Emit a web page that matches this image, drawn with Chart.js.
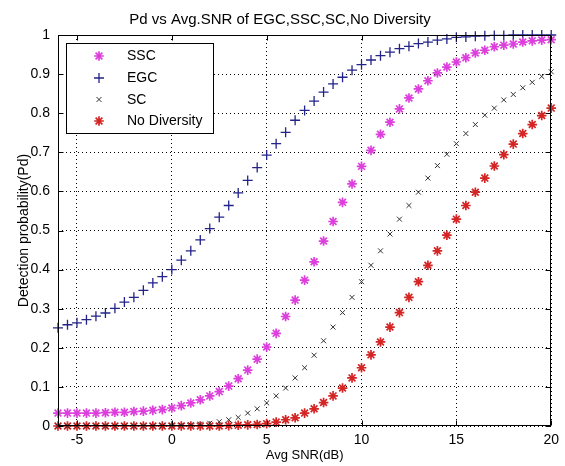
<!DOCTYPE html>
<html><head><meta charset="utf-8">
<script src="https://cdn.jsdelivr.net/npm/chart.js@4/dist/chart.umd.min.js"></script>
<style>html,body{margin:0;padding:0;background:#fff;}</style>
</head><body>
<canvas id="c" width="565" height="466" style="display:block;width:565px;height:466px"></canvas>
<script>
const chartTitle = 'Pd vs Avg.SNR of EGC,SSC,SC,No Diversity';
const xTitle = 'Avg SNR(dB)';
const yTitle = 'Detection probability(Pd)';
const seriesNames = ['SSC', 'EGC', 'SC', 'No Diversity'];
const snrDb = [-6, -5.5, -5, -4.5, -4, -3.5, -3, -2.5, -2, -1.5, -1, -0.5, 0, 0.5, 1, 1.5, 2, 2.5, 3, 3.5, 4, 4.5, 5, 5.5, 6, 6.5, 7, 7.5, 8, 8.5, 9, 9.5, 10, 10.5, 11, 11.5, 12, 12.5, 13, 13.5, 14, 14.5, 15, 15.5, 16, 16.5, 17, 17.5, 18, 18.5, 19, 19.5, 20];
const pdSSC = [0.033, 0.033, 0.033, 0.033, 0.033, 0.034, 0.035, 0.035, 0.037, 0.038, 0.040, 0.042, 0.046, 0.052, 0.059, 0.067, 0.077, 0.088, 0.102, 0.121, 0.143, 0.171, 0.202, 0.237, 0.280, 0.322, 0.373, 0.420, 0.473, 0.523, 0.572, 0.619, 0.664, 0.705, 0.746, 0.777, 0.811, 0.839, 0.862, 0.883, 0.903, 0.918, 0.931, 0.942, 0.954, 0.961, 0.970, 0.974, 0.977, 0.982, 0.985, 0.987, 0.988];
const pdEGC = [0.251, 0.259, 0.264, 0.272, 0.281, 0.289, 0.301, 0.317, 0.329, 0.347, 0.366, 0.382, 0.400, 0.424, 0.448, 0.476, 0.505, 0.534, 0.564, 0.596, 0.628, 0.661, 0.693, 0.722, 0.751, 0.782, 0.807, 0.831, 0.854, 0.875, 0.892, 0.910, 0.924, 0.936, 0.947, 0.956, 0.965, 0.971, 0.978, 0.982, 0.987, 0.990, 0.994, 0.995, 0.997, 0.998, 0.999, 0.999, 1.000, 1.000, 1.000, 1.000, 1.000];
const pdSC = [0.000, 0.000, 0.000, 0.000, 0.000, 0.000, 0.000, 0.000, 0.000, 0.000, 0.000, 0.001, 0.001, 0.002, 0.003, 0.005, 0.007, 0.011, 0.016, 0.022, 0.033, 0.044, 0.059, 0.077, 0.097, 0.123, 0.149, 0.181, 0.218, 0.253, 0.290, 0.329, 0.369, 0.411, 0.448, 0.491, 0.529, 0.564, 0.598, 0.634, 0.666, 0.695, 0.722, 0.748, 0.771, 0.795, 0.813, 0.834, 0.848, 0.865, 0.879, 0.894, 0.906];
const pdNoDiv = [0.000, 0.000, 0.000, 0.000, 0.000, 0.000, 0.000, 0.000, 0.000, 0.000, 0.000, 0.000, 0.000, 0.000, 0.000, 0.000, 0.000, 0.000, 0.001, 0.002, 0.003, 0.004, 0.006, 0.010, 0.016, 0.021, 0.033, 0.044, 0.060, 0.077, 0.097, 0.123, 0.149, 0.182, 0.215, 0.253, 0.290, 0.329, 0.369, 0.411, 0.448, 0.488, 0.529, 0.564, 0.598, 0.634, 0.665, 0.694, 0.721, 0.748, 0.771, 0.794, 0.813];
const xTicks = [-5, 0, 5, 10, 15, 20];
const yTicks = [0, 0.1, 0.2, 0.3, 0.4, 0.5, 0.6, 0.7, 0.8, 0.9, 1];
const yTickLabels = ['0', '0.1', '0.2', '0.3', '0.4', '0.5', '0.6', '0.7', '0.8', '0.9', '1'];

const FONT = 'Arial, "Liberation Sans", sans-serif';
Chart.defaults.font.family = FONT;
Chart.defaults.color = '#000';

const styles = [
  {color: '#dd3fdd', pointStyle: 'star', radius: 4.8, width: 1.7},
  {color: '#23238a', pointStyle: 'cross', radius: 5, width: 1.3},
  {color: '#333333', pointStyle: 'crossRot', radius: 3.5, width: 1},
  {color: '#d42424', pointStyle: 'star', radius: 4.8, width: 1.7}
];
const seriesValues = [pdSSC, pdEGC, pdSC, pdNoDiv];

const datasets = seriesNames.map((name, k) => ({
  label: name,
  data: snrDb.map((x, i) => ({x: x, y: seriesValues[k][i]})),
  showLine: false,
  pointStyle: styles[k].pointStyle,
  pointRadius: styles[k].radius,
  pointBorderWidth: styles[k].width,
  borderColor: styles[k].color,
  backgroundColor: styles[k].color,
  pointBorderColor: styles[k].color,
  pointBackgroundColor: styles[k].color,
  clip: false
}));

const framePlugin = {
  id: 'frame',
  afterDatasetsDraw(chart) {
    const {ctx, chartArea: a, scales} = chart;
    const sx = scales.x, sy = scales.y;
    const L = Math.round(a.left) + 0.5, R = Math.round(a.right) - 0.5;
    const T = Math.round(a.top) + 0.5, B = Math.round(a.bottom) - 0.5;
    ctx.save();
    ctx.strokeStyle = '#000';
    ctx.lineWidth = 1;
    ctx.setLineDash([]);
    ctx.strokeRect(L, T, R - L, B - T);
    ctx.beginPath();
    xTicks.forEach(v => {
      const px = Math.round(sx.getPixelForValue(v)) + 0.5;
      ctx.moveTo(px, B); ctx.lineTo(px, B - 5);
      ctx.moveTo(px, T); ctx.lineTo(px, T + 5);
    });
    yTicks.forEach(v => {
      const py = Math.round(sy.getPixelForValue(v)) + 0.5;
      ctx.moveTo(L, py); ctx.lineTo(L + 5, py);
      ctx.moveTo(R, py); ctx.lineTo(R - 5, py);
    });
    ctx.stroke();

    // legend box (inside plot, top-left)
    const bx = 66.5, by = 43.5, bw = 147, bh = 90;
    ctx.fillStyle = '#fff';
    ctx.fillRect(bx, by, bw, bh);
    ctx.strokeRect(bx, by, bw, bh);
    const rows = [56, 78, 99.5, 121];
    ctx.font = '14px ' + FONT;
    ctx.textBaseline = 'middle';
    ctx.textAlign = 'left';
    seriesNames.forEach((name, k) => {
      const st = styles[k];
      ctx.strokeStyle = st.color;
      ctx.fillStyle = st.color;
      ctx.lineWidth = st.width;
      Chart.helpers.drawPoint(ctx, {pointStyle: st.pointStyle, radius: st.radius, rotation: 0, borderWidth: st.width}, 99, rows[k]);
      ctx.fillStyle = '#000';
      ctx.fillText(name, 127, rows[k] + 0.5);
    });
    ctx.restore();
  }
};

new Chart(document.getElementById('c'), {
  type: 'scatter',
  data: {datasets: datasets},
  options: {
    responsive: false,
    animation: false,
    devicePixelRatio: 1,
    layout: {padding: {left: 0, right: 5, top: 0, bottom: 0}},
    plugins: {
      legend: {display: false},
      tooltip: {enabled: false},
      title: {
        display: true,
        text: chartTitle,
        color: '#000',
        font: {size: 15, weight: 'normal', family: FONT},
        padding: {top: 11, bottom: 6}
      }
    },
    scales: {
      x: {
        type: 'linear',
        min: -6,
        max: 20,
        afterBuildTicks: s => { s.ticks = xTicks.map(v => ({value: v})); },
        afterFit: s => { s.height = 40; },
        ticks: {font: {size: 14}, color: '#000', padding: 6, maxRotation: 0},
        grid: {color: '#000', lineWidth: 1, drawTicks: false},
        border: {display: false, dash: [1, 3]},
        title: {display: true, text: xTitle, color: '#000', font: {size: 13}, padding: {top: 0, bottom: 3}}
      },
      y: {
        type: 'linear',
        min: 0,
        max: 1,
        afterBuildTicks: s => { s.ticks = yTicks.map(v => ({value: v})); },
        afterFit: s => { s.width = 58; },
        ticks: {
          font: {size: 14}, color: '#000', padding: 8,
          callback: (v) => { const i = yTicks.findIndex(t => Math.abs(t - v) < 1e-9); return i >= 0 ? yTickLabels[i] : ''; }
        },
        grid: {color: '#000', lineWidth: 1, drawTicks: false},
        border: {display: false, dash: [1, 3]},
        title: {display: true, text: yTitle, color: '#000', font: {size: 14}, padding: {top: 16, bottom: 0}}
      }
    }
  },
  plugins: [framePlugin]
});
</script>
</body></html>
